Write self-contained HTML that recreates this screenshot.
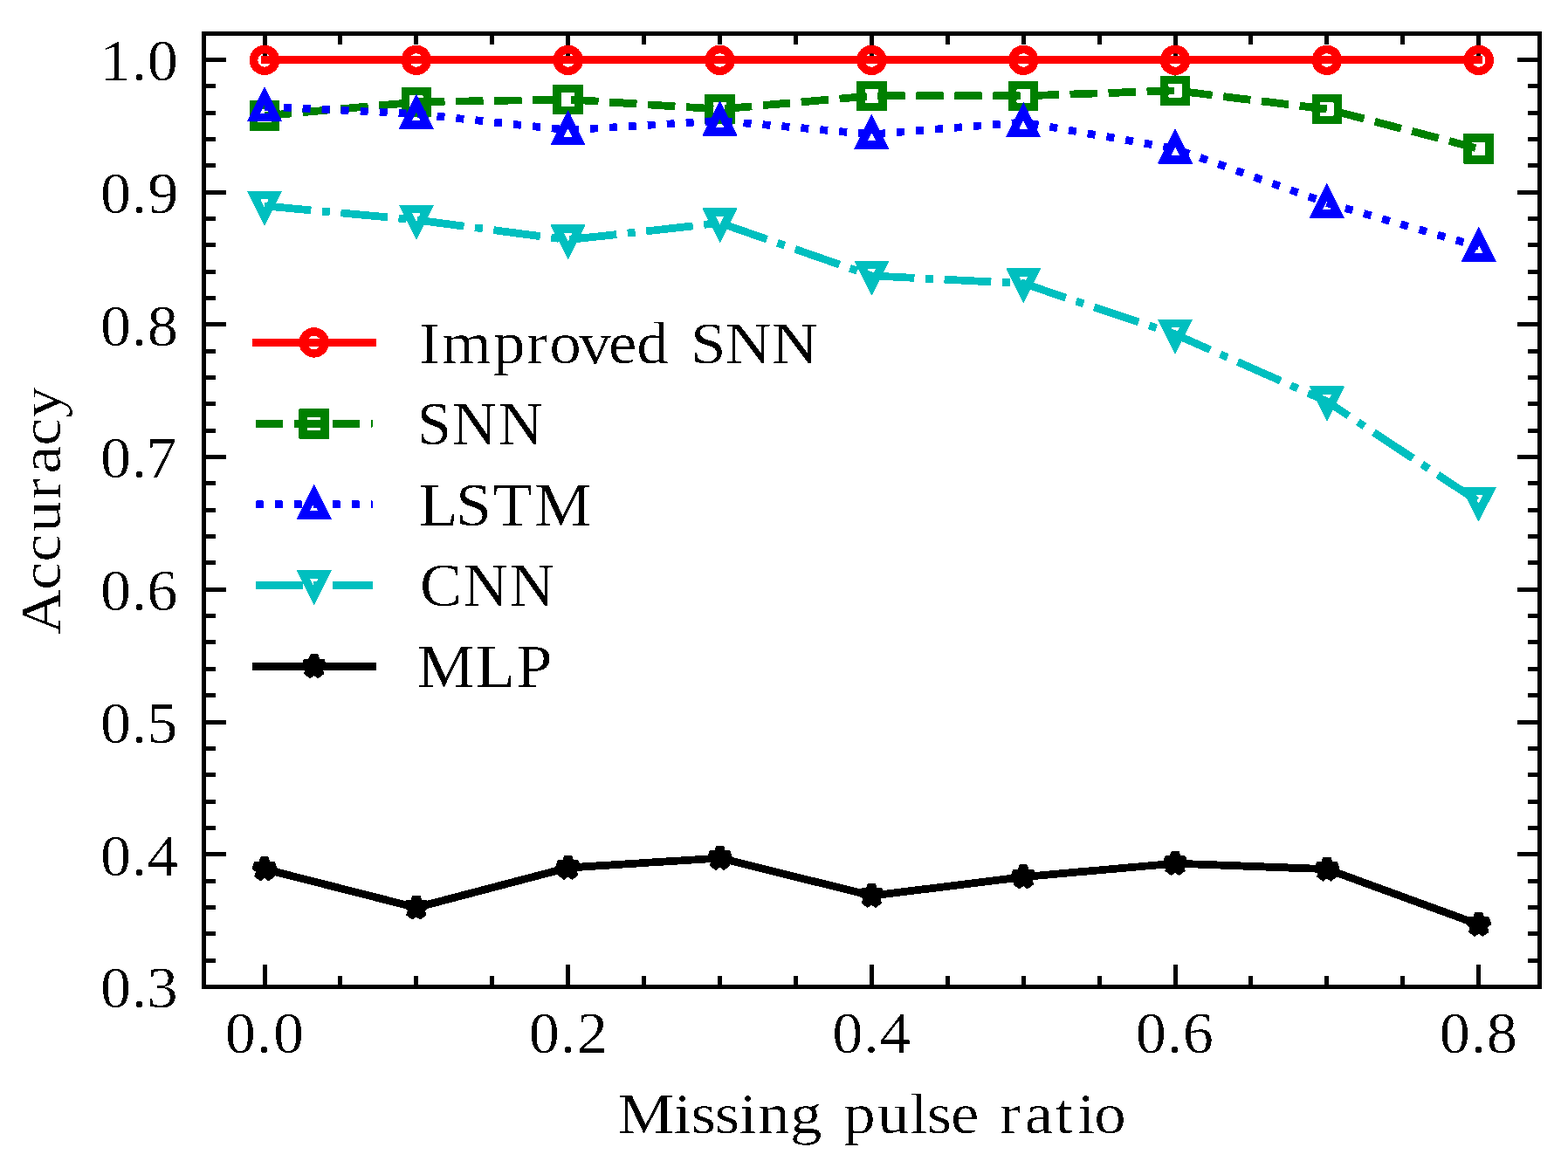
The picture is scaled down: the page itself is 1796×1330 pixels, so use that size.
<!DOCTYPE html>
<html><head><meta charset="utf-8"><title>Accuracy vs Missing pulse ratio</title>
<style>html,body{margin:0;padding:0;background:#fff;width:1796px;height:1330px;overflow:hidden}svg{display:block}text{font-family:"Liberation Serif",serif}</style>
</head><body>
<svg width="1796" height="1330" viewBox="0 0 1796 1330">
<rect width="1796" height="1330" fill="#ffffff"/>
<defs><filter id="bin" x="0" y="0" width="1796" height="1330" filterUnits="userSpaceOnUse" color-interpolation-filters="sRGB"><feComponentTransfer><feFuncA type="discrete" tableValues="0 0 0 0 0 0 0 0 0 0 1 1 1 1 1 1 1 1 1 1"/></feComponentTransfer></filter><filter id="bint" x="0" y="0" width="1796" height="1330" filterUnits="userSpaceOnUse" color-interpolation-filters="sRGB"><feComponentTransfer><feFuncA type="discrete" tableValues="0 0 0 0 0 0 0 0 0 0 0 0 0 0 1 1 1 1 1 1"/></feComponentTransfer></filter></defs>
<g filter="url(#bin)">
<path d="M303.5 1130.5V1105M303.5 38.5V64M389.5 1130.5V1118M389.5 38.5V51M476.5 1130.5V1118M476.5 38.5V51M563.5 1130.5V1118M563.5 38.5V51M650.5 1130.5V1105M650.5 38.5V64M737.5 1130.5V1118M737.5 38.5V51M824.5 1130.5V1118M824.5 38.5V51M911.5 1130.5V1118M911.5 38.5V51M998.5 1130.5V1105M998.5 38.5V64M1085.5 1130.5V1118M1085.5 38.5V51M1172.5 1130.5V1118M1172.5 38.5V51M1259.5 1130.5V1118M1259.5 38.5V51M1346.5 1130.5V1105M1346.5 38.5V64M1432.5 1130.5V1118M1432.5 38.5V51M1519.5 1130.5V1118M1519.5 38.5V51M1606.5 1130.5V1118M1606.5 38.5V51M1693.5 1130.5V1105M1693.5 38.5V64M233.5 1130.5H259M1763.5 1130.5H1738M233.5 1100.5H246.9M1763.5 1100.5H1750.1M233.5 1069.5H246.9M1763.5 1069.5H1750.1M233.5 1039.5H246.9M1763.5 1039.5H1750.1M233.5 1009.5H246.9M1763.5 1009.5H1750.1M233.5 978.5H259M1763.5 978.5H1738M233.5 948.5H246.9M1763.5 948.5H1750.1M233.5 918.5H246.9M1763.5 918.5H1750.1M233.5 887.5H246.9M1763.5 887.5H1750.1M233.5 857.5H246.9M1763.5 857.5H1750.1M233.5 827.5H259M1763.5 827.5H1738M233.5 796.5H246.9M1763.5 796.5H1750.1M233.5 766.5H246.9M1763.5 766.5H1750.1M233.5 735.5H246.9M1763.5 735.5H1750.1M233.5 705.5H246.9M1763.5 705.5H1750.1M233.5 675.5H259M1763.5 675.5H1738M233.5 644.5H246.9M1763.5 644.5H1750.1M233.5 614.5H246.9M1763.5 614.5H1750.1M233.5 584.5H246.9M1763.5 584.5H1750.1M233.5 553.5H246.9M1763.5 553.5H1750.1M233.5 523.5H259M1763.5 523.5H1738M233.5 493.5H246.9M1763.5 493.5H1750.1M233.5 462.5H246.9M1763.5 462.5H1750.1M233.5 432.5H246.9M1763.5 432.5H1750.1M233.5 402.5H246.9M1763.5 402.5H1750.1M233.5 371.5H259M1763.5 371.5H1738M233.5 341.5H246.9M1763.5 341.5H1750.1M233.5 311.5H246.9M1763.5 311.5H1750.1M233.5 280.5H246.9M1763.5 280.5H1750.1M233.5 250.5H246.9M1763.5 250.5H1750.1M233.5 220.5H259M1763.5 220.5H1738M233.5 189.5H246.9M1763.5 189.5H1750.1M233.5 159.5H246.9M1763.5 159.5H1750.1M233.5 129.5H246.9M1763.5 129.5H1750.1M233.5 98.5H246.9M1763.5 98.5H1750.1M233.5 68.5H259M1763.5 68.5H1738M233.5 38.5H246.9M1763.5 38.5H1750.1" stroke="#000" stroke-width="5" fill="none" shape-rendering="crispEdges"/>
<polyline points="303,68.4 476.84,68.4 650.68,68.4 824.52,68.4 998.36,68.4 1172.2,68.4 1346.04,68.4 1519.88,68.4 1693.72,68.4" fill="none" stroke="#ff0000" stroke-width="8.8" stroke-linejoin="round" stroke-linecap="square"/>
<g fill="none" stroke="#ff0000" stroke-width="9.5" stroke-linejoin="miter"><circle cx="303" cy="68.9" r="12.5"/><circle cx="476.84" cy="68.9" r="12.5"/><circle cx="650.68" cy="68.9" r="12.5"/><circle cx="824.52" cy="68.9" r="12.5"/><circle cx="998.36" cy="68.9" r="12.5"/><circle cx="1172.2" cy="68.9" r="12.5"/><circle cx="1346.04" cy="68.9" r="12.5"/><circle cx="1519.88" cy="68.9" r="12.5"/><circle cx="1693.72" cy="68.9" r="12.5"/></g>
<polyline points="303,132.6 476.84,117 650.68,114 824.52,125 998.36,109.9 1172.2,109.9 1346.04,103.8 1519.88,125 1693.72,170.3" fill="none" stroke="#008000" stroke-width="8.8" stroke-linejoin="round" stroke-linecap="butt" stroke-dasharray="31.44 12.59" stroke-dashoffset="0.35"/>
<g fill="none" stroke="#008000" stroke-width="9.5" stroke-linejoin="miter"><rect x="290.5" y="120.1" width="25" height="25"/><rect x="464.34" y="104.5" width="25" height="25"/><rect x="638.18" y="101.5" width="25" height="25"/><rect x="812.02" y="112.5" width="25" height="25"/><rect x="985.86" y="97.4" width="25" height="25"/><rect x="1159.7" y="97.4" width="25" height="25"/><rect x="1333.54" y="91.3" width="25" height="25"/><rect x="1507.38" y="112.5" width="25" height="25"/><rect x="1681.22" y="157.8" width="25" height="25"/></g>
<polyline points="303,122 476.84,130.5 650.68,149 824.52,138.4 998.36,153.8 1172.2,140 1346.04,170.3 1519.88,232.5 1693.72,282.5" fill="none" stroke="#0000ff" stroke-width="8.8" stroke-linejoin="round" stroke-linecap="butt" stroke-dasharray="9.01 13.01" stroke-dashoffset="0.35"/>
<g fill="none" stroke="#0000ff" stroke-width="9.5" stroke-linejoin="miter"><polygon points="303,109.5 290.5,134.5 315.5,134.5"/><polygon points="476.84,118 464.34,143 489.34,143"/><polygon points="650.68,136.5 638.18,161.5 663.18,161.5"/><polygon points="824.52,125.9 812.02,150.9 837.02,150.9"/><polygon points="998.36,141.3 985.86,166.3 1010.86,166.3"/><polygon points="1172.2,127.5 1159.7,152.5 1184.7,152.5"/><polygon points="1346.04,157.8 1333.54,182.8 1358.54,182.8"/><polygon points="1519.88,220 1507.38,245 1532.38,245"/><polygon points="1693.72,270 1681.22,295 1706.22,295"/></g>
<polyline points="303,235.9 476.84,252 650.68,274.7 824.52,255.4 998.36,315.9 1172.2,324.7 1346.04,383 1519.88,459.8 1693.72,575" fill="none" stroke="#00bfbf" stroke-width="8.8" stroke-linejoin="round" stroke-linecap="butt" stroke-dasharray="53.87 12.59 9.01 12.59" stroke-dashoffset="0.35"/>
<g fill="none" stroke="#00bfbf" stroke-width="9.5" stroke-linejoin="miter"><polygon points="303,248.4 290.5,223.4 315.5,223.4"/><polygon points="476.84,264.5 464.34,239.5 489.34,239.5"/><polygon points="650.68,287.2 638.18,262.2 663.18,262.2"/><polygon points="824.52,267.9 812.02,242.9 837.02,242.9"/><polygon points="998.36,328.4 985.86,303.4 1010.86,303.4"/><polygon points="1172.2,337.2 1159.7,312.2 1184.7,312.2"/><polygon points="1346.04,395.5 1333.54,370.5 1358.54,370.5"/><polygon points="1519.88,472.3 1507.38,447.3 1532.38,447.3"/><polygon points="1693.72,587.5 1681.22,562.5 1706.22,562.5"/></g>
<polyline points="303,995.45 476.84,1039.65 650.68,994 824.52,983.05 998.36,1026.1 1172.2,1004.55 1346.04,989.15 1519.88,995.7 1693.72,1059.1" fill="none" stroke="#000000" stroke-width="8.8" stroke-linejoin="round" stroke-linecap="square"/>
<g fill="none" stroke="#000000" stroke-width="9.5" stroke-linejoin="bevel"><polygon points="303,982.95 300.19,991.59 291.11,991.59 298.46,996.93 295.65,1005.56 303,1000.22 310.35,1005.56 307.54,996.93 314.89,991.59 305.81,991.59"/><polygon points="476.84,1027.15 474.03,1035.79 464.95,1035.79 472.3,1041.13 469.49,1049.76 476.84,1044.42 484.19,1049.76 481.38,1041.13 488.73,1035.79 479.65,1035.79"/><polygon points="650.68,981.5 647.87,990.14 638.79,990.14 646.14,995.48 643.33,1004.11 650.68,998.77 658.03,1004.11 655.22,995.48 662.57,990.14 653.49,990.14"/><polygon points="824.52,970.55 821.71,979.19 812.63,979.19 819.98,984.53 817.17,993.16 824.52,987.82 831.87,993.16 829.06,984.53 836.41,979.19 827.33,979.19"/><polygon points="998.36,1013.6 995.55,1022.24 986.47,1022.24 993.82,1027.58 991.01,1036.21 998.36,1030.87 1005.71,1036.21 1002.9,1027.58 1010.25,1022.24 1001.17,1022.24"/><polygon points="1172.2,992.05 1169.39,1000.69 1160.31,1000.69 1167.66,1006.03 1164.85,1014.66 1172.2,1009.32 1179.55,1014.66 1176.74,1006.03 1184.09,1000.69 1175.01,1000.69"/><polygon points="1346.04,976.65 1343.23,985.29 1334.15,985.29 1341.5,990.63 1338.69,999.26 1346.04,993.92 1353.39,999.26 1350.58,990.63 1357.93,985.29 1348.85,985.29"/><polygon points="1519.88,983.2 1517.07,991.84 1507.99,991.84 1515.34,997.18 1512.53,1005.81 1519.88,1000.47 1527.23,1005.81 1524.42,997.18 1531.77,991.84 1522.69,991.84"/><polygon points="1693.72,1046.6 1690.91,1055.24 1681.83,1055.24 1689.18,1060.58 1686.37,1069.21 1693.72,1063.87 1701.07,1069.21 1698.26,1060.58 1705.61,1055.24 1696.53,1055.24"/></g>
<rect x="233.5" y="38.5" width="1530.0" height="1092.0" fill="none" stroke="#000" stroke-width="5" shape-rendering="crispEdges"/>
<line x1="293.1" y1="392.4" x2="426.6" y2="392.4" stroke="#ff0000" stroke-width="8.8" stroke-linecap="square"/>
<g fill="none" stroke="#ff0000" stroke-width="9.5" stroke-linejoin="miter"><circle cx="359.7" cy="392.4" r="12.5"/></g>
<line x1="293.1" y1="485.45" x2="426.6" y2="485.45" stroke="#008000" stroke-width="8.8" stroke-linecap="butt" stroke-dasharray="31.44 12.59" stroke-dashoffset="0.35"/>
<g fill="none" stroke="#008000" stroke-width="9.5" stroke-linejoin="miter"><rect x="347.2" y="472.95" width="25" height="25"/></g>
<line x1="293.1" y1="577.85" x2="426.6" y2="577.85" stroke="#0000ff" stroke-width="8.8" stroke-linecap="butt" stroke-dasharray="9.01 13.01" stroke-dashoffset="0.35"/>
<g fill="none" stroke="#0000ff" stroke-width="9.5" stroke-linejoin="miter"><polygon points="359.7,565.35 347.2,590.35 372.2,590.35"/></g>
<line x1="293.1" y1="670.5" x2="426.6" y2="670.5" stroke="#00bfbf" stroke-width="8.8" stroke-linecap="butt" stroke-dasharray="53.87 12.59 9.01 12.59" stroke-dashoffset="0.35"/>
<g fill="none" stroke="#00bfbf" stroke-width="9.5" stroke-linejoin="miter"><polygon points="359.7,683 347.2,658 372.2,658"/></g>
<line x1="293.1" y1="763.4" x2="426.6" y2="763.4" stroke="#000000" stroke-width="8.8" stroke-linecap="square"/>
<g fill="none" stroke="#000000" stroke-width="9.5" stroke-linejoin="bevel"><polygon points="359.7,750.9 356.89,759.54 347.81,759.54 355.16,764.88 352.35,773.51 359.7,768.17 367.05,773.51 364.24,764.88 371.59,759.54 362.51,759.54"/></g>
<g font-family="Liberation Serif, serif" fill="#000" filter="url(#bint)"><text transform="translate(0 1154.25) scale(1.0350 1.0)" font-size="68.0" x="111.07 145.61 162.8">0.3</text><text transform="translate(0 1002.53) scale(1.0350 1.0)" font-size="68.0" x="111.07 145.61 162.97">0.4</text><text transform="translate(0 850.81) scale(1.0350 1.0)" font-size="68.0" x="111.07 145.61 162.46">0.5</text><text transform="translate(0 699.09) scale(1.0350 1.0)" font-size="68.0" x="111.07 145.61 162.63">0.6</text><text transform="translate(0 547.37) scale(1.0350 1.0)" font-size="68.0" x="111.07 145.61 161.95">0.7</text><text transform="translate(0 395.65) scale(1.0350 1.0)" font-size="68.0" x="111.07 145.61 163.14">0.8</text><text transform="translate(0 243.93) scale(1.0350 1.0)" font-size="68.0" x="111.07 145.61 163.48">0.9</text><text transform="translate(0 92.21) scale(1.0350 1.0)" font-size="68.0" x="110.77 145.61 163.14">1.0</text><text transform="translate(0 1206.4) scale(1.0350 1.0)" font-size="68.0" x="249.04 283.72 302.32">0.0</text><text transform="translate(0 1206.4) scale(1.0350 1.0)" font-size="68.0" x="585.32 619.95 638.36">0.2</text><text transform="translate(0 1206.4) scale(1.0350 1.0)" font-size="68.0" x="921.07 955.7 973.6">0.4</text><text transform="translate(0 1206.4) scale(1.0350 1.0)" font-size="68.0" x="1256.82 1291.45 1309.01">0.6</text><text transform="translate(0 1206.4) scale(1.0350 1.0)" font-size="68.0" x="1593.1 1627.68 1645.22">0.8</text><text transform="translate(0 1298) scale(1.0516 0.955)" font-size="69.4" x="672.69 733.8 752.68 778.64 805.26 825.71 860.57 870.57 918.84 955.72 991.27 1009.72 1035.53 1045.53 1088.86 1116.18 1149.18 1173.76 1191.71">Missing pulse ratio</text><text transform="translate(69 0) rotate(-90) translate(0 0) scale(1.0345 0.955)" font-size="69.4" x="-702.69 -653.45 -622.27 -589.52 -552.72 -524.7 -493.61 -462.72">Accuracy</text><text transform="translate(0 416.4) scale(1.0508 0.975)" font-size="69.4" x="456.61 481.57 537.79 573.8 598.88 631.19 663.42 693.94 703.94 752.73 790.61 841.24">Improved SNN</text><text transform="translate(0 509.02) scale(1.0184 1.0)" font-size="69.4" x="469.02 508.29 560.53">SNN</text><text transform="translate(0 601.64) scale(1.0634 1.0)" font-size="69.4" x="450.91 490.77 530.75 575.61">LSTM</text><text transform="translate(0 694.26) scale(1.0350 1.0)" font-size="69.4" x="464.76 512.23 563.53">CNN</text><text transform="translate(0 786.88) scale(1.0711 1.0)" font-size="69.4" x="446.12 508.32 552.1">MLP</text></g>
</g>
</svg>
</body></html>
